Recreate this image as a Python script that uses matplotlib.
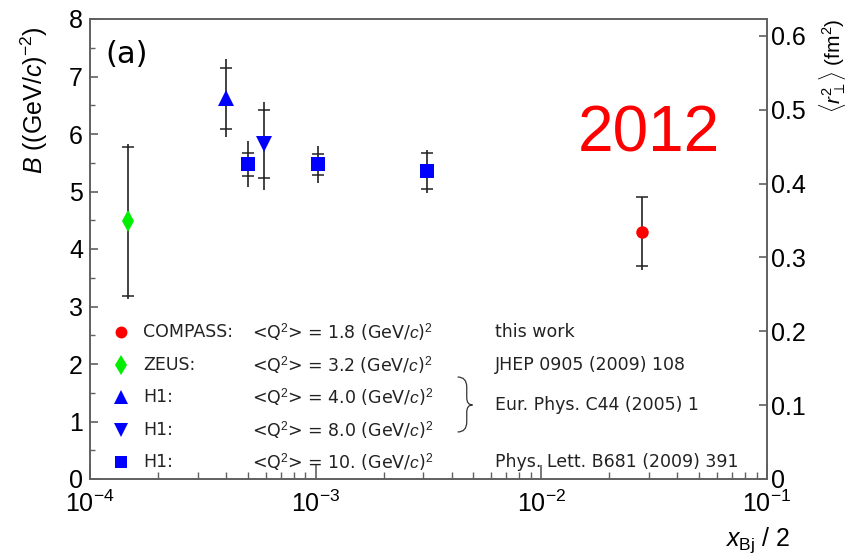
import matplotlib
matplotlib.use("Agg")
import matplotlib.pyplot as plt
from matplotlib.path import Path
from matplotlib.patches import PathPatch
from matplotlib.ticker import LogLocator, NullFormatter, MultipleLocator, FixedLocator

plt.rcParams['font.family'] = ['Liberation Sans', 'DejaVu Sans']
plt.rcParams['mathtext.fontset'] = 'custom'
plt.rcParams['mathtext.rm'] = 'Liberation Sans'
plt.rcParams['mathtext.it'] = 'Liberation Sans:italic'
plt.rcParams['mathtext.sf'] = 'Liberation Sans'

# ---------------- data ----------------
experiments = ["COMPASS", "ZEUS", "H1_4", "H1_8", "H1_10"]
labels = ["COMPASS:", "ZEUS:", "H1:", "H1:", "H1:"]
q2_text = ["1.8", "3.2", "4.0", "8.0", "10."]
refs = ["this work", "JHEP 0905 (2009) 108", "", "", "Phys. Lett. B681 (2009) 391"]
brace_ref = "Eur. Phys. C44 (2005) 1"
colors = ["#ff0000", "#00ee00", "#0000ff", "#0000ff", "#0000ff"]
markers = ["o", "d", "^", "v", "s"]
msizes = [9, 11, 11, 11, 9.5]

# per experiment: x, B, stat error, total error (up/down)
x_pts = [[2.8e-2], [1.47e-4], [4.0e-4], [5.9e-4], [5.0e-4, 1.02e-3, 3.1e-3]]
B_pts = [[4.30], [4.48], [6.62], [5.82], [5.47, 5.47, 5.36]]
stat_err = [[0.60], [1.30], [0.53], [0.59], [0.20, 0.19, 0.31]]
tot_up = [[0.60], [1.35], [0.68], [0.74], [0.40, 0.32, 0.36]]
tot_dn = [[0.67], [1.35], [0.68], [0.79], [0.40, 0.33, 0.38]]

yticks_left = [0, 1, 2, 3, 4, 5, 6, 7, 8]
yticks_right = [0, 0.1, 0.2, 0.3, 0.4, 0.5, 0.6]
xticks = [1e-4, 1e-3, 1e-2, 1e-1]
xtick_labels = [r"$10^{-4}$", r"$10^{-3}$", r"$10^{-2}$", r"$10^{-1}$"]
B_to_r2 = 2 * 0.038938  # <r^2> = 2 B (hbar c)^2  [fm^2]

# ---------------- figure ----------------
W, H = 846, 559
fig = plt.figure(figsize=(W / 100, H / 100), dpi=100)
L, R, T, Bt = 90, 767, 19, 479
ax = fig.add_axes([L / W, 1 - Bt / H, (R - L) / W, (Bt - T) / H])

spine_c = "#606060"
for s in ax.spines.values():
    s.set_color(spine_c)
    s.set_linewidth(1.4)

for i in range(len(experiments)):
    ax.errorbar(x_pts[i], B_pts[i], yerr=[tot_dn[i], tot_up[i]], fmt="none",
                ecolor="#222222", elinewidth=1.2, capsize=0, zorder=2)
    ax.errorbar(x_pts[i], B_pts[i], yerr=stat_err[i], fmt="none",
                ecolor="#222222", elinewidth=0, capsize=4, capthick=1.1, zorder=2)
    ax.plot(x_pts[i], B_pts[i], linestyle="none", marker=markers[i],
            color=colors[i], markersize=msizes[i], markeredgewidth=0, zorder=3)

ax.set_xscale("log")
ax.set_xlim(1e-4, 1e-1)
ax.set_ylim(0, 8)
ax.set_xticks(xticks)
ax.set_xticklabels(xtick_labels)
ax.xaxis.set_minor_locator(LogLocator(base=10, subs=range(2, 10)))
ax.xaxis.set_minor_formatter(NullFormatter())
ax.set_yticks(yticks_left)
ax.yaxis.set_minor_locator(MultipleLocator(0.5))
ax.tick_params(axis="x", which="major", direction="in", length=10, width=1.2,
               color=spine_c, labelsize=18, pad=8, top=False)
ax.tick_params(axis="x", which="minor", direction="in", length=5, width=1.0,
               color=spine_c, top=False)
ax.tick_params(axis="y", which="major", direction="in", length=6, width=1.2,
               color=spine_c, labelsize=18, pad=5, right=False)
ax.tick_params(axis="y", which="minor", direction="in", length=3.5, width=1.0,
               color=spine_c, right=False)

ax2 = ax.twinx()
ax2.set_ylim(0, 8 * B_to_r2)
ax2.yaxis.set_major_locator(FixedLocator(yticks_right))
ax2.set_yticklabels(["0"] + [f"{v:.1f}" for v in yticks_right[1:]])
ax2.tick_params(axis="y", which="major", direction="in", length=6, width=1.2,
                color=spine_c, labelsize=18, pad=3)
for s in ax2.spines.values():
    s.set_visible(False)

# axis labels
fig.text(34 / W, 1 - 26 / H, r"$B$ ((GeV/$c$)$^{-2}$)", rotation=90,
         ha="center", va="top", fontsize=18)
fig.text(832 / W, 1 - 18 / H, r"$\langle r_{\perp}^{2}\rangle$ (fm$^{2}$)",
         rotation=90, ha="center", va="top", fontsize=15)
fig.text(790 / W, 1 - 540 / H, r"$x_{\mathrm{Bj}}$ / 2", ha="right", va="center",
         fontsize=18)

ax.text(0.022, 0.955, "(a)", transform=ax.transAxes, fontsize=22,
        ha="left", va="top", family="DejaVu Sans")
ax.text(0.825, 0.748, "2012", transform=ax.transAxes, fontsize=46,
        color="#ff0000", ha="center", va="center")

# legend
leg_fs = 12.5
row_y = [0.320, 0.248, 0.178, 0.107, 0.037]
for i in range(len(experiments)):
    y = row_y[i]
    ax.plot([0.046], [y], transform=ax.transAxes, marker=markers[i],
            color=colors[i], markersize=msizes[i] * 0.95, markeredgewidth=0,
            linestyle="none", clip_on=False)
    ax.text(0.078, y, labels[i], transform=ax.transAxes, fontsize=leg_fs,
            family="DejaVu Sans", va="center", ha="left", color="#222222")
    ax.text(0.239, y, r"<Q$^{2}$> = " + q2_text[i] + r" (GeV/$c$)$^{2}$",
            transform=ax.transAxes, fontsize=leg_fs, family="DejaVu Sans",
            va="center", ha="left", color="#222222")
    if refs[i]:
        ax.text(0.598, y, refs[i], transform=ax.transAxes, fontsize=leg_fs,
                family="DejaVu Sans", va="center", ha="left", color="#222222")
ax.text(0.598, 0.161, brace_ref, transform=ax.transAxes, fontsize=leg_fs,
        family="DejaVu Sans", va="center", ha="left", color="#222222")

# brace
x0, x1, xt = 0.543, 0.5565, 0.565
yt, ym, yb = 0.2217, 0.161, 0.1022
verts = [(x0, yt), (x1, yt), (x1, yt - 0.022), (x1, ym + 0.016),
         (x1, ym), (xt, ym), (x1, ym), (x1, ym - 0.016),
         (x1, yb + 0.022), (x1, yb), (x0, yb)]
codes = [Path.MOVETO, Path.CURVE3, Path.CURVE3, Path.LINETO,
         Path.CURVE3, Path.CURVE3, Path.CURVE3, Path.CURVE3,
         Path.LINETO, Path.CURVE3, Path.CURVE3]
ax.add_patch(PathPatch(Path(verts, codes), transform=ax.transAxes,
                       facecolor="none", edgecolor="#333333", lw=0.9,
                       clip_on=False))

fig.savefig("out.png", dpi=100)
